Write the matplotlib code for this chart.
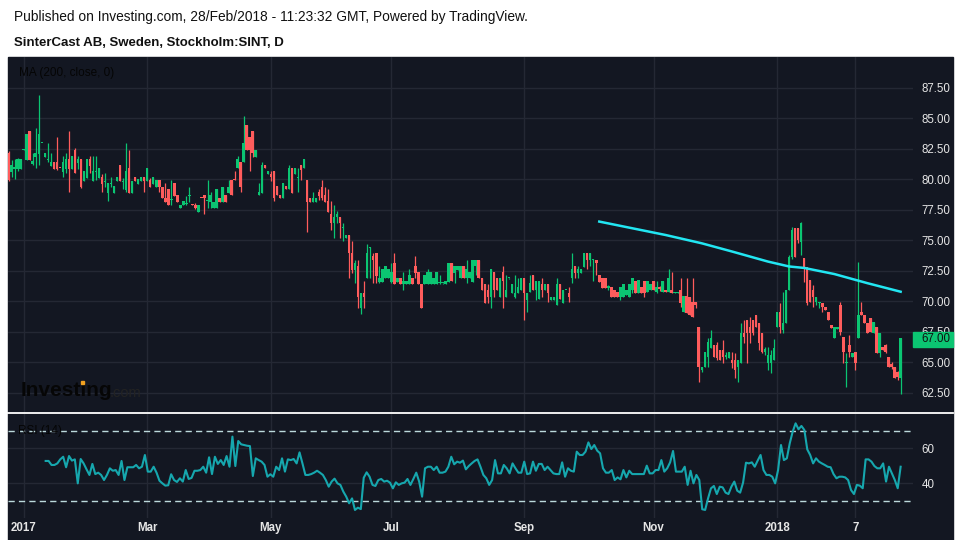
import numpy as np
import matplotlib
matplotlib.use("Agg")
from matplotlib import pyplot as plt
from matplotlib.patches import Rectangle
from matplotlib.lines import Line2D

plt.rcParams['font.family'] = ['Liberation Sans', 'DejaVu Sans']

#=============================+
# Daily candles (SINT, price) |
#=============================+
opens = [82.15, 80.65, 80.9, 80.86, 80.86, 82.42, 81.6, 83.98, 81.3, 81.88,
         82.1, 82.97, 81.88, 81.6, 81.11, 81.47, 81.47, 80.95, 80.65, 80.89,
         81.66, 80.86, 82.42, 81.38, 81.66, 79.91, 80.15, 81.66, 79.91, 80.6,
         80.15, 80.18, 79.8, 78.93, 79.6, 78.93, 79.91, 81.19, 79.8, 79.14,
         80.92, 78.93, 80.18, 79.63, 79.91, 80.18, 79.91, 79.96, 79.63, 79.42,
         79.96, 79.42, 78.46, 79.23, 78.3, 79.69, 78.74, 77.64, 77.91, 78.0,
         78.65, 77.92, 77.91, 77.37, 78.47, 78.71, 78.2, 78.19, 77.64, 77.64,
         78.46, 78.19, 78.71, 78.93, 79.96, 79.97, 80.92, 81.44, 81.44, 84.47,
         83.49, 83.98, 81.88, 78.71, 78.93, 81.19, 80.43, 80.46, 80.7, 79.47,
         78.71, 78.46, 79.47, 79.2, 80.92, 80.43, 80.1, 81.19, 80.92, 79.96,
         78.46, 78.19, 78.19, 78.98, 79.42, 78.71, 78.24, 77.18, 76.41, 76.9,
         76.9, 76.0, 75.18, 75.45, 73.95, 72.58, 72.91, 69.44, 70.67, 71.9,
         74.4, 73.73, 73.95, 71.63, 71.63, 71.9, 71.9, 71.63, 73.13, 71.63,
         71.9, 71.41, 71.41, 71.41, 71.9, 72.91, 72.42, 71.41, 71.41, 71.41,
         71.41, 71.41, 71.41, 71.5, 71.49, 71.41, 71.63, 73.13, 72.31, 72.58,
         71.9, 72.91, 71.9, 71.9, 71.63, 72.91, 73.4, 71.9, 71.41, 70.94,
         70.4, 72.42, 71.9, 70.4, 72.42, 70.4, 71.9, 70.67, 70.4, 70.67,
         70.94, 71.9, 70.12, 70.81, 72.17, 70.94, 70.18, 71.41, 70.94, 71.41,
         70.12, 70.12, 69.71, 71.41, 69.9, 70.94, 70.67, 71.9, 72.91, 72.31,
         72.31, 72.86, 73.95, 73.4, 73.4, 73.4, 72.17,
         71.9, 71.9, 71.1, 71.19, 70.94, 70.81, 70.4, 70.4, 70.53, 70.4,
         70.94, 71.68, 70.67, 71.19, 71.68, 70.81, 70.94, 71.68, 70.81, 71.19,
         70.81, 70.94, 70.81, 70.94, 70.72, 70.72, 70.94, 69.17, 70.45, 70.4,
         69.99, 69.99, 67.94, 64.39, 64.66, 65.48, 66.16, 66.43, 66.43, 66.02,
         66.02, 65.48, 65.34, 65.21, 65.21, 64.66, 64.93, 67.39, 68.48, 67.94,
         68.48, 68.89, 68.21, 67.39, 65.89, 64.93, 64.93, 65.21, 67.94, 69.17,
         67.66, 68.21, 70.94, 73.67, 76.0, 76.0, 74.9, 73.54, 72.86, 71.76,
         70.94, 69.99, 69.85, 69.85, 69.52, 69.1, 68.07, 66.98, 67.72, 69.71,
         67.12, 64.93, 66.43, 65.48, 65.89, 66.98, 69.17, 68.89, 68.21, 68.62,
         67.39, 67.94, 65.75, 66.3, 66.43, 65.48, 64.9, 64.66, 64.2, 63.7]
highs = [82.3, 81.6, 81.66, 81.75, 81.66, 82.5, 83.73, 83.98, 82.15, 84.2,
         86.93, 83.0, 82.15, 82.97, 82.15, 81.47, 83.49, 80.95, 81.93, 82.2,
         83.98, 81.93, 82.6, 81.93, 81.66, 80.7, 81.66, 81.93, 81.93, 81.93,
         80.92, 80.43, 80.51, 79.69, 80.18, 79.47, 80.18, 81.19, 80.15, 82.97,
         82.42, 79.91, 80.18, 80.02, 80.18, 80.18, 80.92, 80.1, 80.18, 79.96,
         79.96, 79.42, 79.69, 79.23, 79.96, 79.69, 78.74, 77.91, 78.24, 78.65,
         79.42, 77.95, 78.1, 77.91, 78.5, 78.71, 79.96, 79.01, 78.19, 79.23,
         78.46, 79.42, 78.71, 79.96, 79.96, 80.7, 81.93, 81.44, 85.21, 84.47,
         83.49, 83.98, 82.42, 79.69, 81.44, 81.19, 80.7, 80.7, 80.7, 79.47,
         78.71, 79.69, 79.47, 81.19, 80.92, 80.92, 80.92, 81.19, 81.66, 79.96,
         78.46, 79.01, 78.46, 79.23, 79.96, 79.42, 79.23, 78.24, 77.91, 77.45,
         76.9, 76.41, 75.45, 75.45, 74.99, 73.4, 73.4, 70.67, 71.68, 74.71,
         74.5, 73.95, 73.95, 72.91, 72.64, 72.91, 72.64, 73.13, 73.95, 71.9,
         71.9, 72.42, 71.68, 72.64, 71.9, 73.73, 72.42, 71.41, 72.17, 72.64,
         72.42, 71.9, 72.42, 72.17, 71.52, 71.68, 73.13, 73.13, 72.91, 72.91,
         72.91, 72.91, 73.4, 72.44, 73.4, 73.4, 73.4, 71.9, 71.41, 71.41,
         72.64, 72.42, 71.9, 71.9, 72.91, 72.17, 71.95, 71.41, 72.17, 71.9,
         71.9, 71.9, 70.67, 72.17, 72.17, 71.68, 71.68, 71.9, 71.41, 71.41,
         70.4, 70.4, 71.9, 71.41, 70.94, 70.97, 71.19, 73.95, 72.91, 72.91,
         72.64, 73.95, 73.95, 73.95, 73.45, 73.4, 72.17,
         71.9, 71.9, 71.35, 71.19, 70.94, 70.81, 71.19, 71.41, 70.94, 71.41,
         71.9, 71.68, 71.76, 71.19, 71.68, 71.68, 71.41, 71.68, 71.68, 71.3,
         71.68, 70.94, 72.64, 72.44, 70.75, 70.74, 71.9, 70.45, 71.9, 70.4,
         71.9, 69.99, 67.94, 64.66, 65.89, 66.98, 67.66, 66.43, 66.71, 66.02,
         66.84, 65.9, 65.89, 65.89, 65.75, 65.21, 68.21, 68.48, 68.48, 68.76,
         68.48, 68.89, 68.21, 67.39, 66.3, 66.3, 66.02, 66.93, 69.17, 69.85,
         70.81, 70.94, 73.81, 76.1, 76.0, 76.0, 76.54, 73.54, 72.86, 71.76,
         71.35, 70.4, 69.99, 69.85, 69.52, 69.1, 68.07, 67.94, 67.94, 69.99,
         67.12, 65.75, 67.25, 65.75, 65.89, 73.27, 69.99, 68.89, 68.21, 68.62,
         68.35, 67.94, 67.39, 66.3, 66.5, 65.48, 65.0, 64.66, 64.3, 67.0]
lows = [79.9, 80.24, 80.02, 80.7, 80.86, 82.4, 81.6, 81.6, 81.19, 80.97,
        81.19, 82.95, 81.88, 81.47, 81.11, 80.86, 80.78, 80.92, 80.24, 80.51,
        79.01, 80.86, 80.51, 80.86, 79.28, 79.91, 80.15, 80.51, 79.91, 79.96,
        80.15, 79.01, 79.42, 78.24, 79.42, 78.93, 79.91, 79.91, 79.23, 79.01,
        78.93, 78.93, 79.91, 79.63, 79.91, 79.01, 79.91, 79.42, 79.63, 79.42,
        79.01, 78.46, 78.19, 77.91, 77.91, 78.65, 78.19, 77.64, 77.91, 77.91,
        78.19, 77.9, 77.6, 77.37, 78.45, 77.18, 77.64, 77.64, 77.64, 77.64,
        78.19, 78.19, 78.19, 78.93, 78.71, 79.95, 80.92, 79.01, 81.44, 82.42,
        80.7, 81.88, 81.88, 78.71, 78.93, 80.92, 80.43, 79.91, 78.24, 78.71,
        78.46, 78.46, 79.2, 79.2, 78.93, 80.43, 79.01, 79.96, 80.92, 75.72,
        78.19, 78.19, 78.19, 78.32, 78.32, 78.19, 77.37, 75.86, 75.23, 76.41,
        75.23, 74.99, 75.18, 71.95, 72.31, 71.49, 69.44, 68.95, 69.44, 71.9,
        71.9, 71.49, 71.49, 71.49, 71.63, 71.9, 71.9, 71.49, 71.41, 71.63,
        71.41, 70.94, 71.41, 71.41, 71.41, 71.9, 71.41, 69.44, 71.41, 71.41,
        71.41, 71.41, 71.41, 71.41, 71.47, 71.41, 71.63, 71.68, 71.49, 72.58,
        71.9, 71.9, 71.49, 71.9, 71.63, 72.17, 71.9, 70.94, 69.9, 69.9,
        69.49, 70.4, 70.94, 70.4, 69.49, 70.4, 71.88, 70.67, 70.26, 70.67,
        70.94, 68.48, 69.17, 70.81, 70.94, 70.12, 70.18, 70.4, 70.94, 69.99,
        70.12, 70.12, 69.71, 70.2, 69.9, 70.92, 69.99, 71.49, 71.9, 71.9,
        72.31, 72.86, 72.64, 72.91, 71.68, 72.17, 71.63,
        71.08, 71.08, 70.94, 70.4, 70.4, 70.4, 70.12, 70.4, 70.53, 70.4,
        70.67, 70.67, 70.67, 70.67, 70.4, 70.81, 70.94, 70.94, 70.67, 70.9,
        70.81, 70.81, 70.81, 70.67, 70.7, 70.7, 69.58, 69.17, 69.03, 68.89,
        68.76, 69.5, 63.43, 64.25, 64.66, 64.66, 66.16, 65.48, 65.21, 65.21,
        64.93, 65.3, 65.34, 64.52, 63.7, 63.43, 64.93, 66.57, 64.93, 66.57,
        67.25, 67.94, 66.02, 65.75, 65.6, 64.39, 64.11, 65.21, 67.94, 67.39,
        67.39, 68.21, 70.94, 73.5, 73.67, 74.77, 73.81, 71.63, 69.71, 69.99,
        69.58, 69.71, 69.44, 69.17, 69.3, 68.48, 67.8, 66.98, 67.72, 67.25,
        64.93, 63.02, 65.48, 65.48, 64.39, 66.98, 68.89, 68.21, 67.39, 67.53,
        67.39, 65.75, 65.48, 66.02, 65.8, 64.66, 64.5, 63.7, 63.6, 62.42]
closes = [79.96, 81.19, 81.0, 81.66, 81.66, 82.45, 83.73, 81.6, 81.5, 82.15,
          83.73, 82.99, 82.15, 81.7, 81.47, 80.86, 80.86, 80.93, 81.44, 81.66,
          80.86, 81.93, 80.51, 81.66, 79.42, 80.7, 81.66, 81.11, 80.7, 80.7,
          80.92, 79.66, 79.9, 79.69, 79.7, 79.47, 80.18, 79.91, 79.9, 80.7,
          78.93, 79.91, 79.91, 80.02, 80.18, 79.91, 80.92, 79.42, 80.18, 79.96,
          79.42, 78.46, 78.19, 77.91, 78.4, 78.65, 78.19, 77.91, 78.24, 78.1,
          78.71, 77.91, 77.7, 77.91, 78.46, 78.46, 78.3, 78.71, 78.19, 79.23,
          78.19, 79.42, 78.19, 79.42, 78.71, 79.96, 81.66, 79.42, 82.97, 82.42,
          82.42, 82.15, 82.42, 78.98, 81.19, 80.92, 80.7, 80.18, 78.46, 78.71,
          78.46, 79.69, 79.2, 80.92, 78.93, 80.92, 80.2, 80.78, 81.66, 78.19,
          78.19, 78.46, 78.46, 78.65, 78.46, 78.19, 77.37, 76.41, 76.9, 77.18,
          76.41, 76.1, 75.45, 73.95, 72.58, 73.13, 70.4, 70.67, 70.4, 73.95,
          74.45, 73.4, 72.12, 71.9, 72.64, 72.91, 72.64, 72.42, 71.41, 71.9,
          71.41, 71.68, 71.68, 72.17, 71.41, 72.31, 71.41, 69.44, 72.17, 72.42,
          72.42, 71.9, 72.42, 71.6, 71.5, 71.68, 73.13, 71.68, 72.91, 72.91,
          72.91, 71.9, 72.64, 72.44, 73.4, 73.4, 71.9, 70.94, 69.9, 70.4,
          72.64, 70.94, 70.94, 71.9, 71.68, 70.94, 71.92, 71.41, 70.67, 71.19,
          71.9, 70.67, 70.67, 71.49, 70.94, 71.68, 71.68, 70.94, 71.41, 70.67,
          70.4, 70.4, 71.41, 70.2, 70.94, 70.95, 70.4, 72.64, 72.31, 72.64,
          72.64, 73.95, 73.4, 73.95, 73.42, 73.13, 71.63,
          71.08, 71.08, 71.3, 70.4, 70.4, 70.4, 71.19, 71.41, 70.94, 71.41,
          71.9, 70.67, 71.76, 70.67, 70.67, 71.68, 71.41, 70.94, 71.19, 71.0,
          71.68, 70.81, 71.9, 70.67, 70.73, 70.72, 69.85, 70.45, 69.03, 68.89,
          68.76, 69.71, 64.66, 64.66, 65.89, 66.71, 66.98, 65.48, 65.34, 65.21,
          65.48, 65.6, 65.89, 64.93, 64.39, 65.21, 67.39, 67.12, 67.39, 67.39,
          67.39, 67.94, 66.57, 65.89, 66.1, 65.61, 65.61, 66.16, 69.17, 67.94,
          68.21, 70.94, 73.67, 75.9, 73.67, 75.04, 76.41, 72.86, 69.85, 69.99,
          70.4, 70.4, 69.99, 69.52, 69.3, 68.48, 67.8, 67.94, 67.94, 67.53,
          65.89, 64.95, 65.89, 65.75, 64.93, 68.89, 68.89, 68.21, 67.39, 67.53,
          68.35, 65.75, 67.39, 66.02, 65.9, 64.66, 64.66, 63.7, 63.8, 67.0]

# MA(200, close) read at a few dates (bar number, value)
ma_bars = [196, 207, 218, 230, 240, 252, 259, 264, 274, 285, 296]
ma_vals = [76.55, 76.0, 75.45, 74.77, 74.1, 73.27, 72.87, 72.75, 72.25, 71.5, 70.8]

# RSI(14)
rsi = [52.6, 52.6, 50.3, 50.3, 51.2, 53.5, 55.0, 49.0, 55.4, 52.8,
       53.5, 39.8, 53.7, 51.2, 47.8, 44.6, 50.9, 45.1, 45.9, 44.6,
       41.7, 44.6, 48.4, 47.0, 47.4, 44.6, 52.6, 41.7, 49.0, 49.0,
       49.0, 50.3, 48.4, 49.3, 56.0, 46.5, 46.5, 49.3, 45.9, 41.3,
       39.8, 38.5, 38.7, 45.0, 41.7, 40.6, 42.7, 40.8, 47.4, 42.3,
       42.9, 47.0, 47.0, 47.4, 49.3, 45.9, 54.7, 45.1, 55.0, 50.9,
       53.1, 50.3, 55.4, 49.3, 66.5, 49.7, 64.0, 62.1, 61.7, 61.3,
       61.1, 44.0, 54.1, 53.1, 52.2, 50.3, 43.6, 45.0, 43.6, 49.3,
       47.4, 54.1, 46.5, 53.5, 53.1, 53.7, 51.2, 57.5, 51.2, 44.6,
       44.6, 45.1, 45.9, 47.0, 45.9, 44.6, 41.7, 37.9, 40.8, 42.5,
       39.8, 38.9, 35.1, 32.2, 28.4, 31.2, 24.6, 25.9, 25.1, 43.0,
       46.1, 43.6, 38.9, 38.3, 41.7, 42.3, 40.8, 41.3, 40.2, 36.95,
       40.4, 38.9, 39.8, 40.2, 42.3, 38.9, 42.3, 45.9, 40.8, 32.2,
       48.4, 49.3, 49.3, 47.4, 49.3, 45.9, 45.9, 46.5, 49.3, 55.0,
       50.7, 52.2, 51.6, 52.8, 47.8, 49.7, 51.2, 52.6, 53.5, 49.3,
       44.6, 42.7, 38.9, 41.7, 53.1, 45.5, 45.5, 50.3, 48.4, 45.5,
       51.2, 48.4, 45.9, 45.9, 52.2, 45.1, 45.5, 52.2, 47.0, 50.9,
       50.9, 47.4, 49.3, 47.4, 45.5, 45.1, 45.1, 51.8, 43.6, 48.4,
       47.0, 46.5, 57.9, 56.0, 56.0, 57.9, 63.2, 59.4, 61.7, 58.5,
       56.95, 48.4, 45.9, 45.9, 47.4, 41.7, 43.2, 42.1, 47.4, 43.2,
       47.0, 45.1, 45.1, 45.1, 45.1, 45.1, 49.9, 45.5, 45.5, 47.4,
       47.4, 53.1, 46.5, 48.4, 51.8, 58.3, 46.5, 46.5, 46.5, 49.3,
       38.9, 47.0, 39.8, 44.6, 41.7, 25.0, 24.6, 31.2, 36.95, 38.3,
       33.7, 37.9, 37.5, 34.5, 33.7, 37.9, 40.8, 35.6, 34.5, 40.2,
       51.6, 51.2, 51.8, 49.3, 52.8, 56.0, 47.4, 44.6, 44.6, 43.6,
       39.8, 47.4, 61.7, 53.1, 54.1, 62.7, 69.3, 74.1, 70.7, 72.6,
       70.3, 59.2, 56.0, 51.2, 54.1, 52.2, 51.2, 50.3, 49.3, 49.0,
       45.1, 42.7, 43.6, 43.6, 43.2, 41.7, 36.0, 33.7, 38.9, 38.5,
       37.0, 53.5, 53.5, 52.2, 49.7, 48.4, 48.4, 51.2, 40.8, 49.3,
       45.5, 41.7, 37.0, 49.3]

# time axis: bar number of each month label
tick_bars = [5, 46, 87, 127, 171, 214, 255, 281]
tick_labels = ['2017', 'Mar', 'May', 'Jul', 'Sep', 'Nov', '2018', '7']
price_ticks = [62.5, 65.0, 67.5, 70.0, 72.5, 75.0, 77.5, 80.0, 82.5, 85.0, 87.5]
last_price = 67.00

#================+
# Graph Plotting |
#================+
W, H = 960, 540
bg = '#131722'
grid_c = '#242834'
up_c = '#0bc572'
down_c = '#ff5c5c'
txt_c = '#e6e6e6'

def fx(x):
    return x / W

def fy(y):
    return 1 - y / H

fig = plt.figure(figsize=(9.6, 5.4), dpi=100)
fig.patch.set_facecolor('white')
fig.add_artist(Rectangle((fx(8), 0), fx(953 - 8), (540 - 57) / H,
                         transform=fig.transFigure, color=bg, zorder=0))

fig.text(fx(14), fy(17), 'Published on Investing.com, 28/Feb/2018 - 11:23:32 GMT, Powered by TradingView.',
         fontsize=9.9, color='#111111', va='center')
fig.text(fx(14), fy(43), 'SinterCast AB, Sweden, Stockholm:SINT, D',
         fontsize=9.5, fontweight='bold', color='#111111', va='center')

ax = fig.add_axes([fx(8), fy(413), fx(913 - 8), (413 - 57) / H])
rax = fig.add_axes([fx(8), fy(518), fx(913 - 8), (518 - 414) / H])

for a in (ax, rax):
    a.set_facecolor(bg)
    for s in a.spines.values():
        s.set_visible(False)
    a.set_xlim(-0.2, 300.1)
    a.set_xticks(tick_bars)
    a.grid(True, color=grid_c, linewidth=1)
    a.set_axisbelow(True)
    a.yaxis.tick_right()
    a.tick_params(axis='y', length=0, pad=6, labelsize=8.3, labelcolor=txt_c)
    a.tick_params(axis='x', length=0)

# candles
o = np.array(opens); h = np.array(highs); l = np.array(lows); c = np.array(closes)
idx = np.arange(len(o))
cols = np.where(c >= o, up_c, down_c)
ax.vlines(idx, l, h, colors=cols, linewidth=0.9, zorder=2)
ax.bar(idx, np.maximum(np.abs(c - o), 0.07), bottom=np.minimum(o, c), width=0.82,
       color=cols, linewidth=0, zorder=3)

ax.plot(ma_bars, ma_vals, color='#22e6f2', linewidth=1.8, zorder=4)

ax.set_ylim(60.86, 90.04)
ax.set_yticks(price_ticks)
ax.set_yticklabels(['%.2f' % v for v in price_ticks])
ax.tick_params(axis='x', labelbottom=False)

ax.text(0.012, 0.955, 'MA (200, close, 0)', transform=ax.transAxes, fontsize=8.5,
        color='#050505', va='center')

# Investing.com watermark
fig.text(fx(21), fy(391), 'Investing', fontsize=15, fontweight='bold', color='#060606', va='center')
fig.text(fx(110), fy(393), '.com', fontsize=10.5, color='#232323', va='center')
fig.add_artist(Rectangle((fx(81), fy(384)), fx(3), 3 / H, transform=fig.transFigure,
                         color='#f0a020', zorder=5))

# last price tag
fig.add_artist(Rectangle((fx(913), fy(347)), fx(40), 15.5 / H, transform=fig.transFigure,
                         color=up_c, zorder=5))
fig.text(fx(921), fy(339), '%.2f' % last_price, fontsize=8.3, color='#101010', va='center', zorder=6)

# separator between panes
fig.add_artist(Line2D([fx(8), fx(953)], [fy(413.3), fy(413.3)], transform=fig.transFigure,
                      color='white', linewidth=1.3, zorder=6))

# RSI pane
rsi_x = np.linspace(12.3, 296, len(rsi))
rax.plot(rsi_x, rsi, color='#16a7ae', linewidth=1.5, zorder=3)
rax.axhline(70, color='#bcd9dc', linewidth=1, linestyle=(0, (4.5, 3)), zorder=2)
rax.axhline(30, color='#bcd9dc', linewidth=1, linestyle=(0, (4.5, 3)), zorder=2)
rax.set_ylim(20.0, 79.43)
rax.set_yticks([40, 60])
rax.set_xticklabels(tick_labels)
rax.tick_params(axis='x', pad=3, labelsize=8.3, labelcolor=txt_c)
for t in rax.get_xticklabels():
    t.set_fontweight('bold')
rax.text(0.011, 0.84, 'RSI (14)', transform=rax.transAxes, fontsize=8.5, color='#050505', va='center')

plt.savefig('out.png', dpi=100, facecolor=fig.get_facecolor())
